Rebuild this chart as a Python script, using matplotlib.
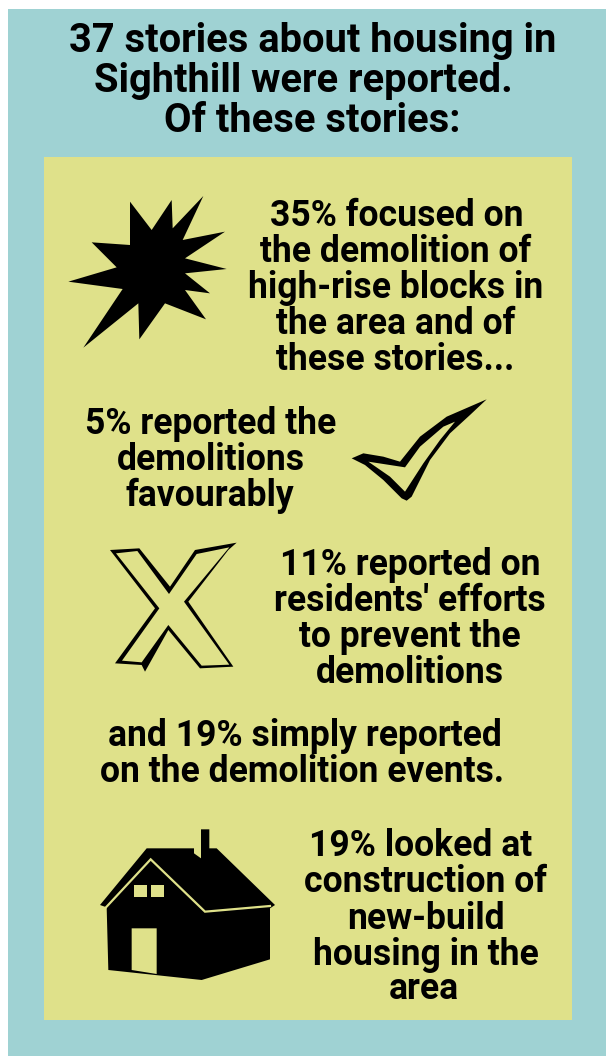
import matplotlib
matplotlib.use("Agg")
import matplotlib.pyplot as plt
from matplotlib.patches import Polygon, Rectangle

W, H = 606, 1056
TEAL, PANEL, INK = "#9fd2d3", "#dfe18a", "#000000"

total_stories = 37
demolition_pct = 35
favourable_pct = 5
prevent_pct = 11
events_pct = 19
newbuild_pct = 19

title_lines = [f"{total_stories} stories about housing in", "Sighthill were reported.", "Of these stories:"]
title_xy = [(313, 52), (303, 92), (312, 132)]
block_a = [f"{demolition_pct}% focused on", "the demolition of", "high-rise blocks in", "the area and of", "these stories..."]
block_a_xy = [(397, 226), (396, 262), (396, 298), (396, 334), (395, 370)]
block_b = [f"{favourable_pct}% reported the", "demolitions", "favourably"]
block_b_xy = [(211, 434), (211, 470), (210, 506)]
block_c = [f"{prevent_pct}% reported on", "residents' efforts", "to prevent the", "demolitions"]
block_c_xy = [(410, 575), (410, 611), (410, 647), (410, 683)]
block_d = [f"and {events_pct}% simply reported", "on the demolition events."]
block_d_xy = [(305, 746), (302, 782)]
block_e = [f"{newbuild_pct}% looked at", "construction of", "new-build", "housing in the", "area"]
block_e_xy = [(421, 856), (426, 892), (426, 929), (426, 965), (424, 999)]

fig = plt.figure(figsize=(W / 100, H / 100), dpi=100, facecolor="white")
ax = fig.add_axes([0, 0, 1, 1])
ax.set_xlim(0, W)
ax.set_ylim(H, 0)
ax.axis("off")
ax.add_patch(Rectangle((8, 9), W - 8, H - 9, fc=TEAL, ec="none"))
ax.add_patch(Rectangle((44, 157), 528, 863, fc=PANEL, ec="none"))

def lines(txt, xy, size):
    for t, (x, y) in zip(txt, xy):
        ax.text(x, y, t, ha="center", va="baseline", fontsize=size, color=INK,
                family="Roboto", fontweight="bold")

lines(title_lines, title_xy, 28.7)
for b, xy in [(block_a, block_a_xy), (block_b, block_b_xy), (block_c, block_c_xy),
              (block_d, block_d_xy), (block_e, block_e_xy)]:
    lines(b, xy, 25.6)

def zoomed(pts, ox, oy):
    return [(ox + x / 3, oy + y / 3) for x, y in pts]

star = [(240,65),(305,150),(365,60),(368,145),(460,48),(398,180),(525,155),(405,235),(530,267),(405,280),
        (480,340),(405,330),(468,418),(345,370),(268,478),(265,370),(100,503),(218,327),(55,305),(200,262),(125,187),(240,195)]
ax.add_patch(Polygon(zoomed(star, 50, 180), fc=INK, ec="none"))

check_out = [(35,205),(70,190),(130,200),(180,215),(240,140),(320,80),(440,28),(390,75),(330,130),(270,210),(215,320),
             (200,332),(185,325),(130,270),(75,225)]
check_in = [(85,215),(195,232),(240,170),(310,110),(345,95),(300,150),(250,220),(195,305),(150,260)]
ax.add_patch(Polygon(zoomed(check_out, 340, 390), fc=INK, ec="none"))
ax.add_patch(Polygon(zoomed(check_in, 340, 390), fc=PANEL, ec="none"))

cross_out = [(30,60),(118,55),(210,170),(285,60),(410,38),(385,60),(265,215),(400,410),(300,415),(205,300),(135,425),
             (125,405),(45,400),(165,235)]
cross_in = [(48,70),(112,63),(207,192),(290,72),(388,52),(252,215),(388,404),(305,407),(205,285),(125,397),(66,392),
            (178,235)]
ax.add_patch(Polygon(zoomed(cross_out, 100, 530), fc=INK, ec="none"))
ax.add_patch(Polygon(zoomed(cross_in, 100, 530), fc=PANEL, ec="none"))

house = [(30,255),(170,85),(312,85),(312,100),(333,115),(333,28),(358,28),(358,85),(380,85),(555,255),(540,265),(540,418),
         (335,480),(55,450),(50,262)]
ax.add_patch(Polygon(zoomed(house, 90, 820), fc=INK, ec="none"))
ax.plot(*zip(*zoomed([(48,262),(182,118),(345,275),(540,258)], 90, 820)), color=PANEL, lw=1.6, solid_joinstyle="miter")
for pts in ([(133,195),(170,195),(170,232),(133,232)], [(182,195),(222,195),(222,232),(182,232)],
            [(125,325),(200,325),(200,462),(125,450)]):
    ax.add_patch(Polygon(zoomed(pts, 90, 820), fc=PANEL, ec="none"))

fig.savefig("out.png", dpi=100, facecolor="white")
